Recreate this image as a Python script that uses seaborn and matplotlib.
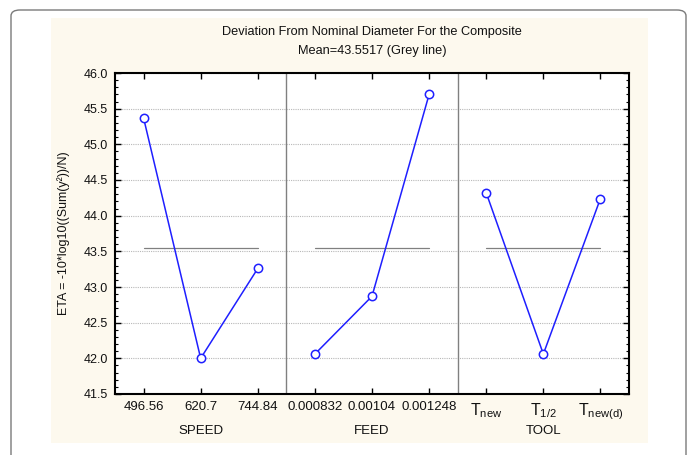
import matplotlib
matplotlib.use("Agg")
import matplotlib.pyplot as plt
from matplotlib.patches import FancyBboxPatch, Rectangle
from matplotlib.ticker import MultipleLocator
import seaborn as sns
import pandas as pd

# ---- data ----
factors = ["SPEED", "FEED", "TOOL"]
speed_levels = ["496.56", "620.7", "744.84"]
feed_levels = ["0.000832", "0.00104", "0.001248"]
tool_levels = [r"T$_{\mathrm{new}}$", r"T$_{\mathrm{1/2}}$", r"T$_{\mathrm{new(d)}}$"]
speed_eta = [45.37, 42.00, 43.26]
feed_eta = [42.06, 42.87, 45.70]
tool_eta = [44.32, 42.06, 44.24]
mean_eta = 43.5517
title_lines = ["Deviation From Nominal Diameter For the Composite", "Mean=43.5517 (Grey line)"]
ylabel = "ETA = -10*log10((Sum(y²))/N)"

sns.set_theme(style="white")
plt.rcParams["font.family"] = ["Liberation Sans", "DejaVu Sans"]
plt.rcParams["mathtext.fontset"] = "custom"
plt.rcParams["mathtext.rm"] = "Liberation Sans"
plt.rcParams["mathtext.it"] = "Liberation Sans:italic"

W, H = 692, 455
fig = plt.figure(figsize=(W / 100, H / 100), dpi=100)
fig.patch.set_facecolor("white")

# rounded outer border
fig.patches.append(FancyBboxPatch((11 / W, -20 / H), (686 - 11) / W, (H - 10 + 20) / H,
                                  boxstyle="round,pad=0,rounding_size=0.013",
                                  transform=fig.transFigure, facecolor="white",
                                  edgecolor="#7a7a7a", linewidth=1.0, zorder=0))
# cream panel
fig.patches.append(Rectangle((51 / W, 1 - 443 / H), (648 - 51) / W, (443 - 18) / H,
                             transform=fig.transFigure, facecolor="#FDF9EE",
                             edgecolor="none", zorder=0.5))

ax = fig.add_axes([115 / W, 1 - 394 / H, (629 - 115) / W, (394 - 73) / H])
ax.set_facecolor("white")
ax.set_zorder(1)

levels = speed_levels + feed_levels + tool_levels
values = speed_eta + feed_eta + tool_eta
groups = [factors[0]] * 3 + [factors[1]] * 3 + [factors[2]] * 3
df = pd.DataFrame({"pos": list(range(9)), "eta": values, "factor": groups})

blue = "#1f1fff"
sns.lineplot(data=df, x="pos", y="eta", hue="factor", palette=[blue] * 3,
             marker="o", markersize=6, markerfacecolor="white",
             markeredgecolor=blue, markeredgewidth=1.1, linewidth=1.1,
             legend=False, ax=ax, zorder=3)

mean_rows = []
for gi, f in enumerate(factors):
    mean_rows.append({"pos": gi * 3, "eta": mean_eta, "factor": f})
    mean_rows.append({"pos": gi * 3 + 2, "eta": mean_eta, "factor": f})
mdf = pd.DataFrame(mean_rows)
sns.lineplot(data=mdf, x="pos", y="eta", hue="factor", palette=["#808080"] * 3,
             linewidth=0.9, legend=False, ax=ax, zorder=2)

for xv in [2.5, 5.5]:
    ax.axvline(xv, color="#808080", linewidth=1.0, zorder=2)

ax.set_xlim(-0.5, 8.5)
ax.set_ylim(41.5, 46.0)
ax.yaxis.set_major_locator(MultipleLocator(0.5))
ax.yaxis.set_minor_locator(MultipleLocator(0.1))
ax.set_yticklabels([f"{v:.1f}" for v in ax.get_yticks()])
ax.set_xticks(range(9))
ax.set_xticklabels(levels)
ax.grid(axis="y", which="major", linestyle=(0, (1, 1)), color="#b8b8b8", linewidth=0.8)
ax.tick_params(axis="both", which="major", direction="in", length=4, width=1,
               color="black", labelsize=9, labelcolor="#111111",
               top=True, right=True, left=True, bottom=True, pad=5)
ax.tick_params(axis="x", which="major", labelsize=9.5)
ax.tick_params(axis="y", which="minor", direction="in", length=2.5, width=0.8,
               color="black", left=True, right=True)
for lbl in ax.get_xticklabels()[6:]:
    lbl.set_fontsize(11.5)
for s in ax.spines.values():
    s.set_color("black")
    s.set_linewidth(1.5)

ax.set_xlabel("")
ax.set_ylabel(ylabel, fontsize=9, labelpad=10, color="#111111")

for gi, f in enumerate(factors):
    ax.text(gi * 3 + 1, -(431 - 394) / (394 - 73), f, transform=ax.get_xaxis_transform(),
            ha="center", va="center", fontsize=9.5, color="#111111")

fig.text(372 / W, 1 - 32 / H, title_lines[0], ha="center", va="center", fontsize=9.2, color="#111111")
fig.text(372 / W, 1 - 51 / H, title_lines[1], ha="center", va="center", fontsize=9.2, color="#111111")

fig.savefig("out.png", dpi=100)
